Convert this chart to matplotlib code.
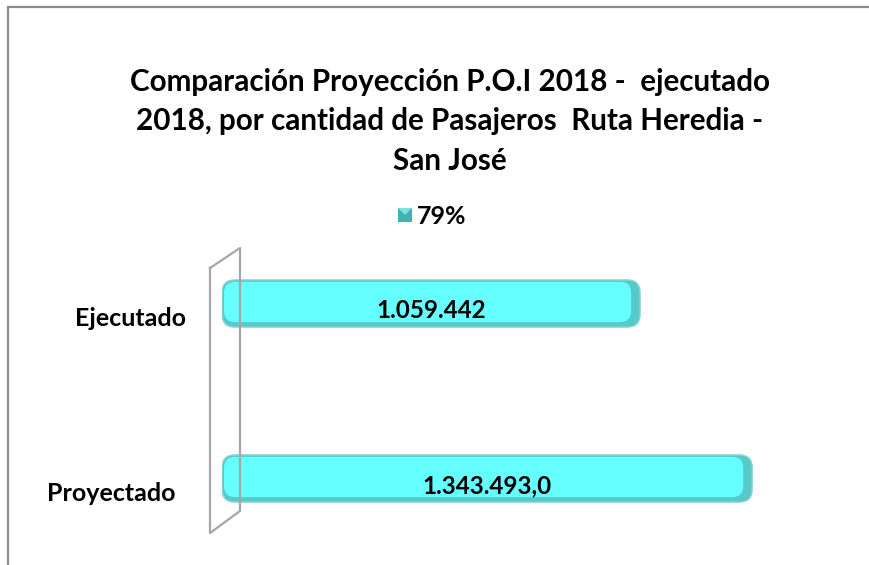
import numpy as np
import matplotlib.pyplot as plt
from matplotlib.patches import FancyBboxPatch, Rectangle, Polygon
from matplotlib.lines import Line2D

# data
categorias = ['Proyectado', 'Ejecutado']
pasajeros = [1343493.0, 1059442]
etiquetas = ['1.343.493,0', '1.059.442']
leyenda = '79%'
titulo = ('Comparación Proyección P.O.I 2018 -  ejecutado\n'
          '2018, por cantidad de Pasajeros  Ruta Heredia -\nSan José')

plt.rcParams['font.family'] = ['Lato', 'DejaVu Sans']

W, H = 869, 565
fig = plt.figure(figsize=(W/100, H/100), dpi=100)

def px(x, y):
    # pixel (from top-left) -> figure fraction
    return x/W, 1 - y/H

# outer border
fig.patches.append(Rectangle(px(8, 575), (W+20)/W, (575-7)/H, transform=fig.transFigure,
                             fill=False, edgecolor='#8c8c8c', lw=1.6))

xmax = 1.5e6
ax = fig.add_axes([222/W, 0.0137, 592/W, 0.5885])
ax.set_xlim(0, xmax)
ax.set_ylim(-0.45, 1.45)
ax.axis('off')

# side wall (3D look)
wall = [(210, 268), (240, 248), (240, 511), (210, 533), (210, 268)]
wx = [px(*p)[0] for p in wall]
wy = [px(*p)[1] for p in wall]
fig.lines.append(Line2D(wx, wy, transform=fig.transFigure, color='#a6a6a6', lw=1.6))

alto = 0.27
bars = ax.barh(range(len(categorias)), pasajeros, height=alto, color='none')

# units per pixel for rounding
xu = xmax / 592
yu = 1.9 / 332.5
asp = yu / xu
r = 13 * xu
for b, lab in zip(bars, etiquetas):
    x0, y0 = b.get_x(), b.get_y()
    w, h = b.get_width(), b.get_height()
    back = FancyBboxPatch((x0 + r, y0 + r*asp), w - 2*r, h - 2*r*asp,
                          boxstyle='round,pad=%f' % r, mutation_aspect=asp,
                          facecolor='#56c9c9', edgecolor='#8fd6d6', lw=1)
    ax.add_patch(back)
    r2 = 11 * xu
    front = FancyBboxPatch((x0 + r2 + 2*xu, y0 + r2*asp + 5*yu),
                           w - 2*r2 - 11*xu, h - 2*r2*asp - 7*yu,
                           boxstyle='round,pad=%f' % r2, mutation_aspect=asp,
                           facecolor='#66ffff', edgecolor='none')
    ax.add_patch(front)
    ax.text(b.get_x() + b.get_width()/2, b.get_y() + h/2 - 7*yu, lab,
            ha='center', va='center', fontsize=17.5, fontweight='bold', color='black')

# category labels
offs = [175, 186]
for i, (cat, o) in enumerate(zip(categorias, offs)):
    ax.text((o - 222) * xu, i - 15*yu, cat, ha='right', va='center',
            fontsize=18, fontweight='bold', color='black')

# title
fig.text(450/W, 1 - 121/H, titulo, ha='center', va='center', fontsize=21.3,
         fontweight='bold', linespacing=1.5, color='black')

# legend
mx, my = 405, 215
sq = [(mx-7, my-7), (mx+7, my-7), (mx+7, my+7), (mx-7, my+7)]
fig.patches.append(Polygon([px(*p) for p in sq], closed=True, transform=fig.transFigure,
                           facecolor='#3fb3b3', edgecolor='none'))
tri = [(mx-7, my-7), (mx+7, my-7), (mx, my)]
fig.patches.append(Polygon([px(*p) for p in tri], closed=True, transform=fig.transFigure,
                           facecolor='#7fe0e0', edgecolor='none'))
fig.text(px(417, 0)[0], px(0, 216)[1], leyenda, ha='left', va='center',
         fontsize=18, fontweight='bold')

fig.savefig('out.png', dpi=100)
